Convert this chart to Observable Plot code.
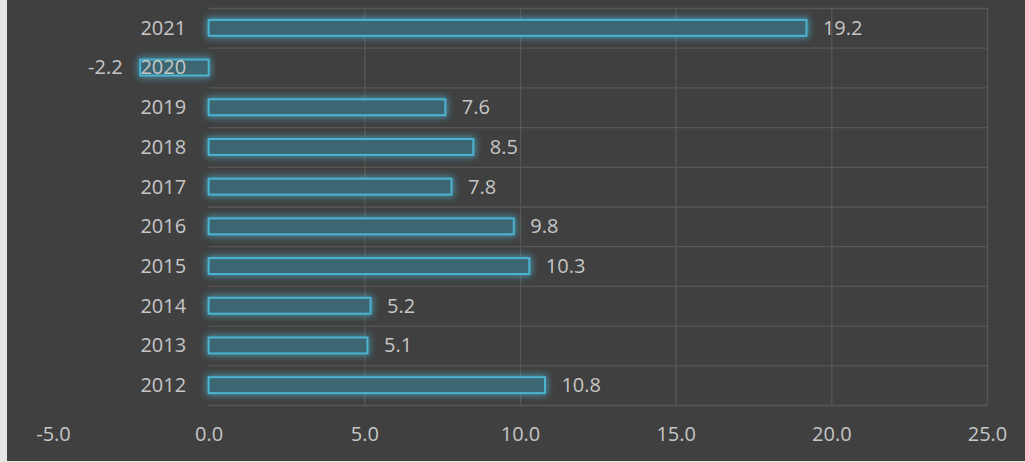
<!DOCTYPE html>
<html>
<head>
<meta charset="utf-8">
<script src="https://cdn.jsdelivr.net/npm/d3@7"></script>
<script src="https://cdn.jsdelivr.net/npm/@observablehq/plot@0.6"></script>
<style>
  html, body { margin: 0; padding: 0; background: #e6e6e6; }
  #wrap { width: 1018px; height: 461px; border-left: 7px solid #e6e6e6; border-bottom: 1px solid #e6e6e6; background: #404040; overflow: hidden; }
  svg { display: block; }
</style>
</head>
<body>
<div id="wrap"></div>
<script>
const years = ["2021","2020","2019","2018","2017","2016","2015","2014","2013","2012"];
const values = [19.2, -2.2, 7.6, 8.5, 7.8, 9.8, 10.3, 5.2, 5.1, 10.8];
const xTicks = [-5, 0, 5, 10, 15, 20, 25];
const gridX = [5, 10, 15, 20, 25];

const data = years.map((y, i) => ({year: y, value: values[i]}));
const fmt = v => v.toFixed(1);

const W = 1018, H = 461;
const mTop = 8, mBottom = 56, mLeft = 46, mRight = 38;
const step = (H - mTop - mBottom) / years.length;
const textColor = "#c6c6c6";
const gridColor = "#575757";

const chart = Plot.plot({
  width: W,
  height: H,
  marginTop: mTop,
  marginBottom: mBottom,
  marginLeft: mLeft,
  marginRight: mRight,
  style: {background: "#404040", color: textColor, fontFamily: "'Open Sans', sans-serif", fontSize: "20px"},
  x: {domain: [-5, 25], ticks: xTicks, tickFormat: fmt, tickSize: 0, tickPadding: 21, label: null},
  y: {domain: years, paddingInner: 0.6, paddingOuter: 0.3, round: false, axis: null, label: null},
  marks: [
    Plot.ruleY(years, {y: d => d, x1: 0, x2: 25, dy: -step / 2, stroke: gridColor, strokeWidth: 1.3}),
    Plot.ruleY([years[years.length - 1]], {y: d => d, x1: 0, x2: 25, dy: step / 2, stroke: gridColor, strokeWidth: 1.3}),
    Plot.ruleX(gridX, {stroke: gridColor, strokeWidth: 1.3}),
    Plot.barX(data, {x1: 0, x2: "value", y: "year", fill: "#3a6672", stroke: "#4bb3d0", strokeWidth: 2}),
    Plot.text(data, {x: 0, y: "year", text: "year", textAnchor: "end", dx: -23, fill: textColor}),
    Plot.text(data, {x: "value", y: "year", text: d => fmt(d.value), fill: textColor})
  ]
});
document.getElementById("wrap").appendChild(chart);
const labelGroups = chart.querySelectorAll('g[aria-label="text"]');
const valGroup = labelGroups[labelGroups.length - 1];
valGroup.querySelectorAll("text").forEach((t, i) => {
  const v = values[i];
  t.setAttribute("dx", v < 0 ? "-18" : "16");
  t.setAttribute("text-anchor", v < 0 ? "end" : "start");
});
// glow filter
const NS = "http://www.w3.org/2000/svg";
const defs = document.createElementNS(NS, "defs");
defs.innerHTML = `<filter id="glow" x="-20%" y="-150%" width="140%" height="400%">
  <feMorphology in="SourceAlpha" operator="dilate" radius="1" result="d"/>
  <feGaussianBlur in="d" stdDeviation="3.5" result="b"/>
  <feFlood flood-color="#4bb3d0" flood-opacity="0.75"/>
  <feComposite in2="b" operator="in" result="g"/>
  <feMerge><feMergeNode in="g"/><feMergeNode in="SourceGraphic"/></feMerge>
</filter>`;
chart.insertBefore(defs, chart.firstChild);
const bars = chart.querySelector('g[aria-label="bar"]');
if (bars) bars.setAttribute("filter", "url(#glow)");
</script>
</body>
</html>
